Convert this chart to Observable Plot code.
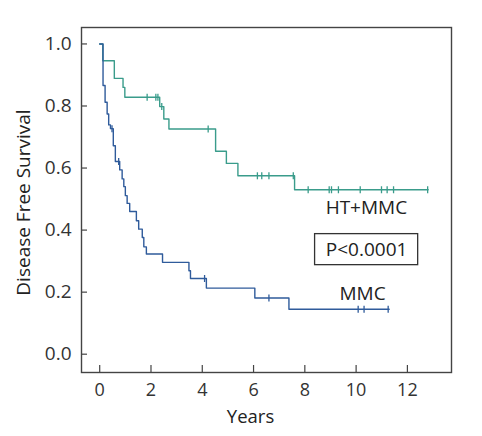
<!DOCTYPE html>
<html>
<head>
<meta charset="utf-8">
<script src="https://cdn.jsdelivr.net/npm/d3@7"></script>
<script src="https://cdn.jsdelivr.net/npm/@observablehq/plot@0.6"></script>
<style>
  html, body { margin: 0; padding: 0; background: #fff; }
  #chart svg { display: block; }
</style>
</head>
<body>
<div id="chart"></div>
<script>
// Kaplan–Meier step data (years, disease-free survival)
const seriesNames = ["HT+MMC", "MMC"];
const htTimes = [0, 0.12, 0.57, 0.91, 0.98, 2.34, 2.50, 2.70, 4.52, 4.94, 5.39, 7.60, 12.81];
const htSurv  = [1.0, 0.946, 0.889, 0.860, 0.828, 0.798, 0.758, 0.726, 0.654, 0.615, 0.575, 0.530, 0.530];
const htCensor = [1.85, 2.19, 2.27, 2.42, 4.23, 6.15, 6.32, 6.60, 7.55, 8.13, 8.95, 9.04, 9.31, 10.16, 10.99, 11.21, 11.46, 12.79];

const mmcTimes = [0, 0.13, 0.21, 0.29, 0.35, 0.42, 0.53, 0.61, 0.78, 0.875, 0.94, 1.00, 1.07, 1.17, 1.43, 1.52, 1.66, 1.72, 1.82, 2.45, 3.48, 3.54, 4.16, 6.05, 7.38, 11.29];
const mmcSurv  = [1.0, 0.866, 0.812, 0.774, 0.739, 0.727, 0.672, 0.621, 0.594, 0.565, 0.540, 0.511, 0.486, 0.460, 0.430, 0.403, 0.376, 0.346, 0.323, 0.296, 0.269, 0.244, 0.213, 0.181, 0.145, 0.145];
const mmcCensor = [0.48, 0.74, 4.09, 6.60, 10.08, 10.31, 11.25];

const xTicks = [0, 2, 4, 6, 8, 10, 12];
const yTicks = [0, 0.2, 0.4, 0.6, 0.8, 1.0];
const pLabel = "P<0.0001";

const colors = {"HT+MMC": "#3a9c8b", "MMC": "#2f5b9b"};

function steps(name, times, surv) {
  return times.map((t, i) => ({series: name, t, s: surv[i]}));
}
function censors(name, ct, times, surv) {
  return ct.map(c => {
    let s = surv[0];
    for (let i = 0; i < times.length; i++) if (times[i] <= c) s = surv[i];
    return {series: name, t: c, s};
  });
}
const stepData = [...steps("HT+MMC", htTimes, htSurv), ...steps("MMC", mmcTimes, mmcSurv)];
const censorData = [...censors("HT+MMC", htCensor, htTimes, htSurv), ...censors("MMC", mmcCensor, mmcTimes, mmcSurv)];

const tickSymbol = {draw(ctx, size) { ctx.moveTo(0, -3.5); ctx.lineTo(0, 3.5); }};

const chart = Plot.plot({
  width: 482,
  height: 436,
  marginLeft: 81,
  marginRight: 31,
  marginTop: 27,
  marginBottom: 64,
  style: {fontFamily: "'Open Sans', sans-serif", fontSize: "19px", color: "#333", background: "#fff"},
  x: {domain: [-0.71, 13.72]},
  y: {domain: [-0.059, 1.053]},
  color: {domain: seriesNames, range: seriesNames.map(n => colors[n])},
  marks: [
    Plot.axisX({ticks: xTicks, tickSize: -7, tickPadding: 18, fontSize: 18, label: null, stroke: "#444", strokeWidth: 1.2}),
    Plot.axisY({ticks: yTicks, tickSize: -6, tickPadding: 16, tickFormat: d3.format(".1f"), label: null, stroke: "#444", strokeWidth: 1.2}),
    Plot.frame({stroke: "#444", strokeWidth: 1.4}),
    Plot.line(stepData, {x: "t", y: "s", z: "series", stroke: "series", curve: "step-after", strokeWidth: 1.4}),
    Plot.dot(censorData, {x: "t", y: "s", stroke: "series", symbol: tickSymbol, r: 3, strokeWidth: 1.3}),
    Plot.text([seriesNames[0]], {x: 10.4, y: 0.472, text: d => d, fontSize: 19, fill: "#222"}),
    Plot.text([seriesNames[1]], {x: 10.25, y: 0.194, text: d => d, fontSize: 19, fill: "#222"}),
    Plot.rect([pLabel], {x1: 8.40, x2: 12.42, y1: 0.287, y2: 0.387, fill: "none", stroke: "#333", strokeWidth: 1.3}),
    Plot.text([pLabel], {x: 10.41, y: 0.337, text: d => d, fontSize: 19, fill: "#222"}),
    Plot.text(["Disease Free Survival"], {frameAnchor: "left", textAnchor: "middle", rotate: -90, dx: -58, dy: 2.5, text: d => d, fontSize: 19, fill: "#222"}),
    Plot.text(["Years"], {frameAnchor: "bottom", dx: -16, dy: 50, text: d => d, fontSize: 18.5, fill: "#222"})
  ]
});
document.getElementById("chart").appendChild(chart);
</script>
</body>
</html>
